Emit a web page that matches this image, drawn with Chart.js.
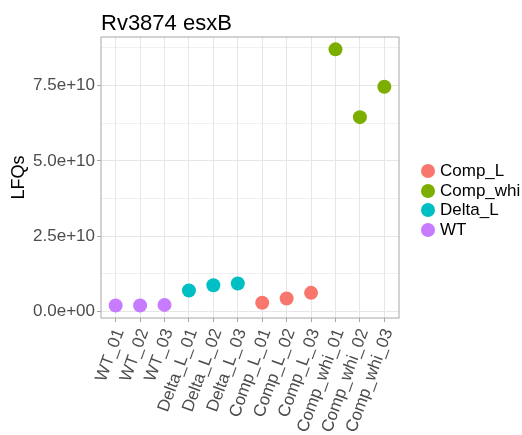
<!DOCTYPE html>
<html lang="en">

<head>
    <meta charset="UTF-8">
    <title>Rv3874 esxB</title>
    <script src="https://cdn.jsdelivr.net/npm/chart.js"></script>
    <style>
        body { margin: 0; background: #fff; font-family: "Liberation Sans", Arial, sans-serif; }
        #wrap { position: relative; width: 522px; height: 435px; overflow: hidden; }
        #legend { position: absolute; left: 421px; top: 161px; }
        .item { display: flex; align-items: center; height: 19.7px; font-size: 17px; color: #000; white-space: nowrap; }
        .dot { width: 14px; height: 14px; border-radius: 50%; margin-right: 5px; }
    </style>
</head>

<body>
    <div id="wrap">
        <canvas id="chart" width="522" height="435"></canvas>
        <div id="legend"></div>
    </div>

    <script>
        // data
        const samples = ['WT_01', 'WT_02', 'WT_03', 'Delta_L_01', 'Delta_L_02', 'Delta_L_03',
            'Comp_L_01', 'Comp_L_02', 'Comp_L_03', 'Comp_whi_01', 'Comp_whi_02', 'Comp_whi_03'];
        const sampleGroup = ['WT', 'WT', 'WT', 'Delta_L', 'Delta_L', 'Delta_L',
            'Comp_L', 'Comp_L', 'Comp_L', 'Comp_whi', 'Comp_whi', 'Comp_whi'];
        const lfq = [2.0e9, 2.0e9, 2.2e9, 7.0e9, 8.7e9, 9.3e9,
            2.9e9, 4.3e9, 6.2e9, 8.70e10, 6.45e10, 7.46e10];
        const groups = ['Comp_L', 'Comp_whi', 'Delta_L', 'WT'];
        const groupColors = ['#F8766D', '#7CAE00', '#00BFC4', '#C77CFF'];
        const yMajor = [0, 2.5e10, 5.0e10, 7.5e10];
        const yMajorLabels = ['0.0e+00', '2.5e+10', '5.0e+10', '7.5e+10'];
        const yMinor = [1.25e10, 3.75e10, 6.25e10, 8.75e10];

        const datasets = groups.map((g, gi) => ({
            label: g,
            data: samples.map((s, i) => ({ x: i, y: lfq[i], g: sampleGroup[i] }))
                .filter(p => p.g === g),
            backgroundColor: groupColors[gi],
            borderWidth: 0,
            pointRadius: 7,
            pointHoverRadius: 7
        }));

        // legend as html
        const legend = document.getElementById('legend');
        groups.forEach((g, gi) => {
            legend.innerHTML += `<div class="item"><span class="dot" style="background:${groupColors[gi]}"></span>${g}</div>`;
        });

        const isMajor = v => yMajor.some(m => Math.abs(m - v) < 1);

        const panel = {
            id: 'panel',
            beforeDatasetsDraw(chart) {
                const { ctx, chartArea: a } = chart;
                ctx.save();
                ctx.strokeStyle = '#a8a8a8';
                ctx.lineWidth = 1;
                ctx.strokeRect(a.left, a.top, a.right - a.left, a.bottom - a.top);
                ctx.restore();
            },
            afterDraw(chart) {
                const { ctx, chartArea: a } = chart;
                ctx.save();
                ctx.fillStyle = '#000';
                ctx.font = '22px "Liberation Sans", Arial, sans-serif';
                ctx.textBaseline = 'alphabetic';
                ctx.fillText('Rv3874 esxB', a.left, 30);
                ctx.restore();
            }
        };

        const font = '"Liberation Sans", Arial, sans-serif';

        new Chart(document.getElementById('chart'), {
            type: 'scatter',
            data: { datasets: datasets },
            plugins: [panel],
            options: {
                responsive: false,
                animation: false,
                layout: { padding: { top: 37, right: 123, left: 0, bottom: 0 } },
                plugins: { legend: { display: false }, tooltip: { enabled: false } },
                scales: {
                    x: {
                        type: 'linear',
                        min: -0.6,
                        max: 11.6,
                        afterBuildTicks: s => { s.ticks = samples.map((_, i) => ({ value: i })); },
                        afterFit: s => { s.height = 117; },
                        grid: { color: '#e6e6e6', tickColor: '#a8a8a8', tickLength: 4 },
                        border: { display: false },
                        ticks: {
                            autoSkip: false,
                            minRotation: 70,
                            maxRotation: 70,
                            padding: 4,
                            labelOffset: 4,
                            color: '#4d4d4d',
                            font: { family: font, size: 17 },
                            callback: v => samples[v]
                        }
                    },
                    y: {
                        min: -2.15e9,
                        max: 9.11e10,
                        afterBuildTicks: s => {
                            s.ticks = yMajor.concat(yMinor).sort((a, b) => a - b).map(v => ({ value: v }));
                        },
                        afterFit: s => { s.width = 101; },
                        grid: {
                            color: '#e6e6e6',
                            lineWidth: c => isMajor(c.tick.value) ? 1 : 0.6,
                            tickColor: c => isMajor(c.tick.value) ? '#a8a8a8' : 'rgba(0,0,0,0)',
                            tickLength: 4
                        },
                        border: { display: false },
                        title: {
                            display: true,
                            text: 'LFQs',
                            color: '#000',
                            font: { family: font, size: 18 },
                            padding: { top: 8, bottom: 0 }
                        },
                        ticks: {
                            padding: 2,
                            color: '#4d4d4d',
                            font: { family: font, size: 17 },
                            callback: v => {
                                const k = yMajor.findIndex(m => Math.abs(m - v) < 1);
                                return k >= 0 ? yMajorLabels[k] : '';
                            }
                        }
                    }
                }
            }
        });
    </script>
</body>

</html>
